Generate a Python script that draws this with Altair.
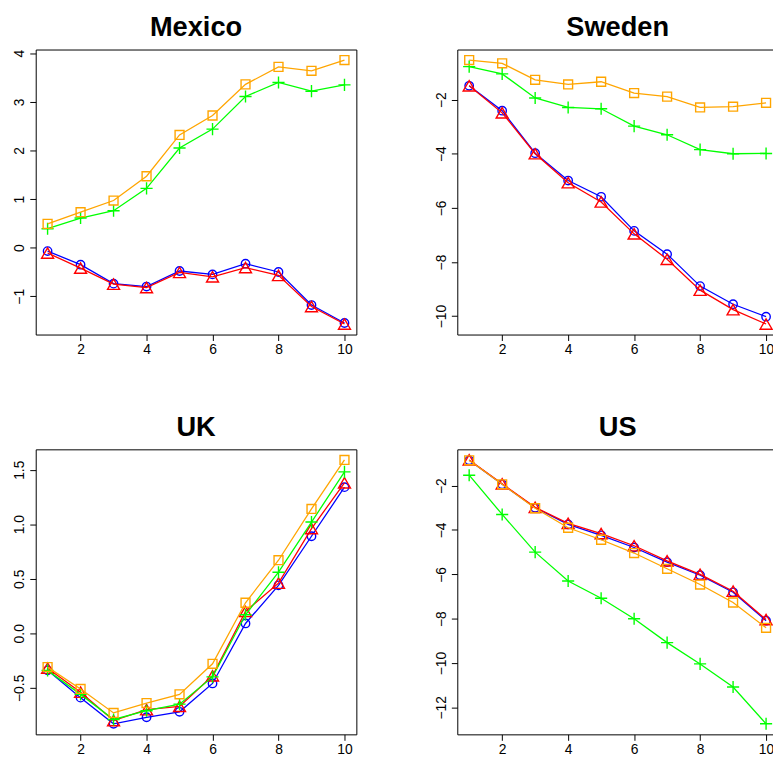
import altair as alt
import pandas as pd

x_vals = [1, 2, 3, 4, 5, 6, 7, 8, 9, 10]
series = ["blue", "red", "green", "orange"]
colors = ["#0000FF", "#FF0000", "#00FF00", "#FFA500"]
shapes = ["circle", "triangle-up", "M-1,0H1M0,-1V1", "square"]
sizes = [72, 147, 150, 81]

mexico_blue = [-0.07, -0.35, -0.74, -0.80, -0.48, -0.55, -0.33, -0.50, -1.18, -1.55]
mexico_red = [-0.11, -0.42, -0.75, -0.82, -0.51, -0.60, -0.41, -0.57, -1.21, -1.57]
mexico_green = [0.39, 0.61, 0.76, 1.22, 2.05, 2.44, 3.11, 3.40, 3.22, 3.35]
mexico_orange = [0.49, 0.73, 0.97, 1.47, 2.32, 2.72, 3.36, 3.72, 3.64, 3.86]

sweden_blue = [-1.49, -2.41, -3.98, -4.99, -5.59, -6.85, -7.71, -8.89, -9.56, -10.02]
sweden_red = [-1.49, -2.49, -4.00, -5.07, -5.78, -6.96, -7.90, -9.04, -9.76, -10.29]
sweden_green = [-0.78, -1.05, -1.94, -2.29, -2.34, -2.98, -3.30, -3.85, -4.00, -3.99]
sweden_orange = [-0.54, -0.66, -1.27, -1.44, -1.34, -1.76, -1.89, -2.29, -2.26, -2.12]

uk_blue = [-0.34, -0.59, -0.83, -0.77, -0.72, -0.46, 0.09, 0.44, 0.89, 1.34]
uk_red = [-0.32, -0.54, -0.80, -0.70, -0.67, -0.39, 0.20, 0.46, 0.96, 1.38]
uk_green = [-0.34, -0.56, -0.79, -0.71, -0.65, -0.40, 0.17, 0.56, 1.02, 1.48]
uk_orange = [-0.31, -0.51, -0.73, -0.64, -0.56, -0.28, 0.28, 0.67, 1.14, 1.59]

us_blue = [-0.86, -1.94, -3.00, -3.75, -4.24, -4.79, -5.45, -6.04, -6.81, -8.09]
us_red = [-0.84, -1.92, -2.98, -3.70, -4.16, -4.71, -5.39, -6.00, -6.76, -8.04]
us_green = [-1.53, -3.30, -5.00, -6.30, -7.08, -8.00, -9.08, -10.04, -11.08, -12.74]
us_orange = [-0.86, -1.94, -3.02, -3.90, -4.44, -5.04, -5.75, -6.46, -7.27, -8.41]

x_ticks = [2, 4, 6, 8, 10]
mexico_ticks = [-1, 0, 1, 2, 3, 4]
sweden_ticks = [-10, -8, -6, -4, -2]
uk_ticks = [-0.5, 0.0, 0.5, 1.0, 1.5]
us_ticks = [-12, -10, -8, -6, -4, -2]

FONT = "Liberation Sans"
W, H = 324, 288


def panel(title, data, yticks, yfmt):
    rows = []
    for s, vals in zip(series, data):
        for xv, yv in zip(x_vals, vals):
            rows.append({"x": xv, "y": yv, "series": s})
    df = pd.DataFrame(rows)
    allv = [v for vals in data for v in vals]
    lo, hi = min(allv), max(allv)
    r = hi - lo
    ydom = [lo - 0.04 * r, hi + 0.04 * r]
    xdom = [1 - 0.04 * 9, 10 + 0.04 * 9]

    xenc = alt.X("x:Q", scale=alt.Scale(domain=xdom, nice=False, zero=False),
                 axis=alt.Axis(values=x_ticks, format="d", title=None, grid=False,
                               domain=False, tickSize=6, tickColor="black",
                               labelFont=FONT, labelFontSize=14, labelColor="black",
                               labelPadding=2, labelBaseline="top", labelFlush=False))
    yenc = alt.Y("y:Q", scale=alt.Scale(domain=ydom, nice=False, zero=False),
                 axis=alt.Axis(values=yticks, format=yfmt, title=None, grid=False,
                               domain=False, tickSize=6, tickColor="black",
                               labelFont=FONT, labelFontSize=14, labelColor="black",
                               labelAngle=270, labelAlign="center",
                               labelBaseline="alphabetic", labelPadding=6,
                               labelFlush=False))
    layers = []
    for s, c, sh, sz in zip(series, colors, shapes, sizes):
        base = alt.Chart(df).transform_filter(alt.datum.series == s).encode(x=xenc, y=yenc)
        layers.append(base.mark_line(color=c, strokeWidth=1.3))
        layers.append(base.mark_point(color=c, shape=sh, size=sz, filled=False,
                                      strokeWidth=1.4, opacity=1))
    return alt.layer(*layers).properties(
        width=W, height=H,
        title=alt.TitleParams(title, font=FONT, fontSize=27.5, fontWeight="bold",
                              color="black", anchor="middle", frame="group",
                              baseline="alphabetic", offset=-14),
    )


mex = panel("Mexico", [mexico_blue, mexico_red, mexico_green, mexico_orange], mexico_ticks, "d")
swe = panel("Sweden", [sweden_blue, sweden_red, sweden_green, sweden_orange], sweden_ticks, "d")
uk = panel("UK", [uk_blue, uk_red, uk_green, uk_orange], uk_ticks, ".1f")
us = panel("US", [us_blue, us_red, us_green, us_orange], us_ticks, "d")

chart = alt.concat(mex, swe, uk, us, columns=2,
                   spacing={"row": 116, "column": 102}, bounds="flush").properties(
    autosize=alt.AutoSizeParams(type="none"),
    padding={"left": 28, "top": 38, "right": 745, "bottom": 719},
    background="white",
).configure_view(stroke="black", strokeWidth=1)

chart.save("out.html", embed_options={"renderer": "svg", "actions": False})
